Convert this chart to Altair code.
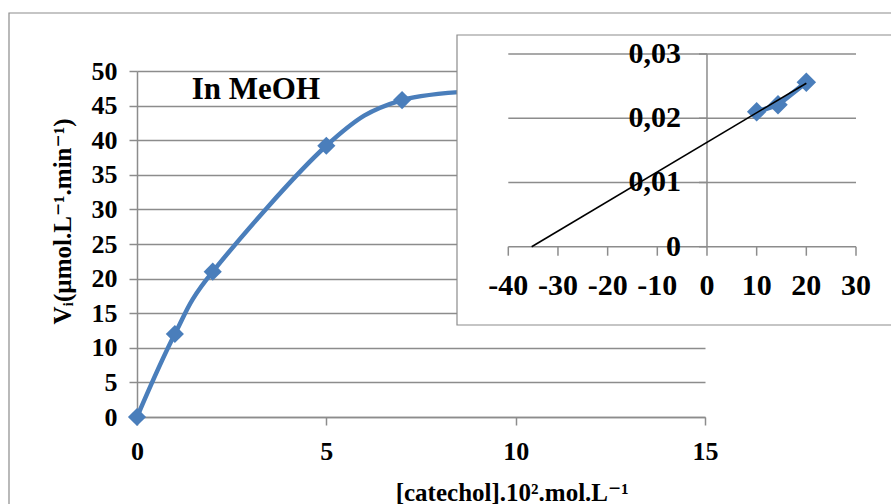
import altair as alt
import pandas as pd

# ---------------- data ----------------
# main curve: initial rate vs catechol concentration (in MeOH)
CONC = [0, 1, 2, 5, 7, 10]
RATE = [0, 12, 21, 39.2, 45.8, 47.3]
MAIN_X_TICKS = [0, 5, 10, 15]
MAIN_Y_TICKS = [0, 5, 10, 15, 20, 25, 30, 35, 40, 45, 50]

# inset: double reciprocal plot
INV_CONC = [10, 14.3, 20]
INV_RATE = [0.021, 0.0221, 0.0256]
TREND_X = [-35.3, 20]
TREND_Y = [0.0, 0.02545]
INSET_X_TICKS = [-40, -30, -20, -10, 0, 10, 20, 30]
INSET_Y_TICKS = [0, 0.01, 0.02, 0.03]
INSET_Y_LABELS = ["0", "0,01", "0,02", "0,03"]

ANNOT_TEXT = ["In MeOH"]
ANNOT_X = [3.14]
ANNOT_Y = [45.95]

# ---------------- style ----------------
BLUE = "#4A7EBB"
GREY = "#8C8C8C"
FONT = "Liberation Serif, DejaVu Serif"

W, H = 568, 346

# ---------------- main chart ----------------
main_df = pd.DataFrame({"c": CONC, "v": RATE})
annot_df = pd.DataFrame({"c": ANNOT_X, "v": ANNOT_Y, "t": ANNOT_TEXT})

xs = alt.Scale(domain=[0, 15], nice=False, zero=False)
ys = alt.Scale(domain=[0, 50], nice=False, zero=False)

x_axis = alt.Axis(values=MAIN_X_TICKS, grid=False, labelFlush=False, labelOverlap=False,
                  labelPadding=13, labelBaseline="top",
                  title="[catechol].10².mol.L⁻¹", titleX=374.7, titleY=83,
                  titleAlign="center", titleBaseline="alphabetic")
y_axis = alt.Axis(values=MAIN_Y_TICKS, grid=True, labelFlush=False, labelOverlap=False,
                  labelPadding=12,
                  title="Vᵢ(µmol.L⁻¹.min⁻¹)", titleX=-67, titleY=150, titleAngle=270,
                  titleAlign="center", titleBaseline="alphabetic")

enc = dict(x=alt.X("c:Q", scale=xs, axis=x_axis), y=alt.Y("v:Q", scale=ys, axis=y_axis))

frame = alt.Chart(pd.DataFrame({"k": [0]})).mark_rect(
    fill="white", fillOpacity=0, stroke=GREY, strokeWidth=1.2
).encode(x=alt.value(-128), x2=alt.value(780), y=alt.value(-58), y2=alt.value(460))

curve = alt.Chart(main_df).mark_line(
    color=BLUE, strokeWidth=4.5, interpolate="cardinal", tension=0
).encode(**enc)

pts = alt.Chart(main_df).mark_point(
    shape="diamond", filled=True, size=330, color=BLUE, opacity=1
).encode(**enc)

annot = alt.Chart(annot_df).mark_text(
    font=FONT, fontSize=31, fontWeight="bold", color="black",
    align="center", baseline="alphabetic"
).encode(text="t:N", **enc)

main = alt.layer(frame, curve, pts, annot)

# ---------------- inset ----------------
isx = alt.Scale(domain=[-40, 30], range=[371.3, 719], nice=False, zero=False)
isy = alt.Scale(domain=[0, 0.03], range=[175.7, -17], nice=False, zero=False)

def ix(f="ix"):
    return alt.X(f"{f}:Q", scale=isx, axis=None)

def iy(f="iy"):
    return alt.Y(f"{f}:Q", scale=isy, axis=None)

box = alt.Chart(pd.DataFrame({"k": [0]})).mark_rect(
    fill="white", stroke=GREY, strokeWidth=1.2
).encode(x=alt.value(320), x2=alt.value(780), y=alt.value(-36), y2=alt.value(254))

grid_df = pd.DataFrame({"ix": [INSET_X_TICKS[0]] * len(INSET_Y_TICKS),
                        "ix2": [INSET_X_TICKS[-1]] * len(INSET_Y_TICKS),
                        "iy": INSET_Y_TICKS})
grid = alt.Chart(grid_df).mark_rule(color=GREY, strokeWidth=1.5).encode(
    x=ix(), x2="ix2:Q", y=iy())

yline_df = pd.DataFrame({"ix": [0], "iy": [INSET_Y_TICKS[0]], "iy2": [INSET_Y_TICKS[-1]]})
yline = alt.Chart(yline_df).mark_rule(color=GREY, strokeWidth=1.5).encode(
    x=ix(), y=iy(), y2="iy2:Q")

xt_df = pd.DataFrame({"ix": INSET_X_TICKS, "iy": [0] * len(INSET_X_TICKS),
                      "t": [str(v) for v in INSET_X_TICKS]})
xticks = alt.Chart(xt_df).mark_tick(
    orient="vertical", size=9, thickness=1.5, color=GREY, yOffset=4.5, opacity=1
).encode(x=ix(), y=iy())
xlabels = alt.Chart(xt_df).mark_text(
    font=FONT, fontSize=30, fontWeight="bold", color="black",
    align="center", baseline="middle", dy=39
).encode(x=ix(), y=iy(), text="t:N")

yt_df = pd.DataFrame({"ix": [0] * len(INSET_Y_TICKS), "iy": INSET_Y_TICKS, "t": INSET_Y_LABELS})
yticks = alt.Chart(yt_df).mark_tick(
    orient="horizontal", size=8, thickness=1.5, color=GREY, xOffset=-4, opacity=1
).encode(x=ix(), y=iy())
ylabels = alt.Chart(yt_df).mark_text(
    font=FONT, fontSize=30, fontWeight="bold", color="black",
    align="right", baseline="middle", dx=-26
).encode(x=ix(), y=iy(), text="t:N")

inv_df = pd.DataFrame({"ix": INV_CONC, "iy": INV_RATE})
inv_line = alt.Chart(inv_df).mark_line(color=BLUE, strokeWidth=5).encode(x=ix(), y=iy())
inv_pts = alt.Chart(inv_df).mark_point(
    shape="diamond", filled=True, size=380, color=BLUE, opacity=1
).encode(x=ix(), y=iy())

trend_df = pd.DataFrame({"ix": TREND_X, "iy": TREND_Y})
trend = alt.Chart(trend_df).mark_line(color="black", strokeWidth=1.6).encode(x=ix(), y=iy())

inset = alt.layer(box, grid, yline, xticks, yticks, xlabels, ylabels, inv_line, inv_pts, trend)

chart = alt.layer(main, inset).resolve_scale(
    x="independent", y="independent"
).properties(
    width=W, height=H,
    padding={"left": 137, "top": 71, "right": 186, "bottom": 87},
    autosize=alt.AutoSizeParams(type="none"),
    background="white",
).configure_view(stroke=None).configure_axis(
    labelFont=FONT, labelFontSize=26, labelFontWeight="bold", labelColor="black",
    titleFont=FONT, titleFontSize=25, titleFontWeight="bold", titleColor="black",
    domainColor=GREY, domainWidth=1.5, tickColor=GREY, tickWidth=1.5, tickSize=8,
    gridColor=GREY, gridWidth=1.5,
)

chart.save("out.html", embed_options={"renderer": "svg", "actions": False})
